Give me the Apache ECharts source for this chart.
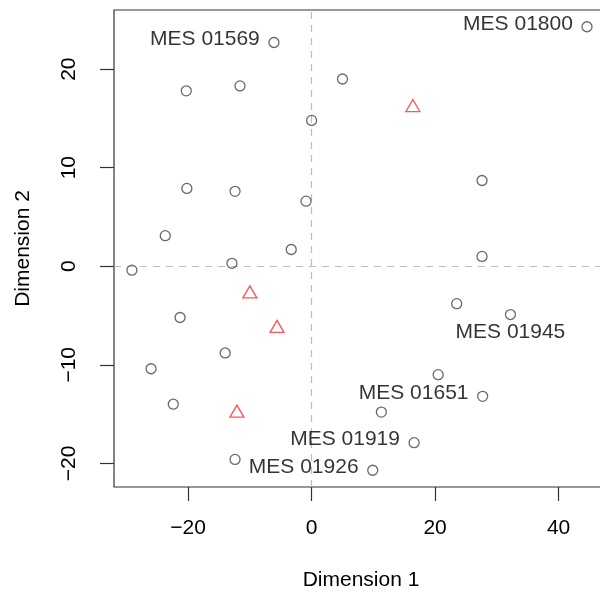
<!DOCTYPE html>
<html>
<head>
<meta charset="utf-8">
<script src="https://cdn.jsdelivr.net/npm/echarts@6/dist/echarts.min.js"></script>
<style>
  html, body { margin: 0; padding: 0; background: #fff; }
  #chart { width: 600px; height: 592px; }
</style>
</head>
<body>
<div id="chart"></div>
<script>
// Samples shown as open circles (Dimension 1, Dimension 2) with optional tag
const circleX = [-6.1, -20.3, -11.6, 5.0, 0.0, -20.2, -12.4, -0.9, 44.6, 27.6,
                 -23.7, -3.3, -12.9, -29.1, -21.3, -14.0, -26.0, 27.6, 23.5, 32.2,
                 20.5, -22.4, -12.4, 27.7, 11.3, 16.6, 9.9];
const circleY = [22.7, 17.8, 18.3, 19.0, 14.8, 7.9, 7.6, 6.6, 24.3, 8.7,
                 3.1, 1.7, 0.3, -0.4, -5.2, -8.8, -10.4, 1.0, -3.8, -4.9,
                 -11.0, -14.0, -19.6, -13.2, -14.8, -17.9, -20.7];
const circleTags = ['MES 01569', '', '', '', '', '', '', '', 'MES 01800', '',
                    '', '', '', '', '', '', '', '', '', 'MES 01945',
                    '', '', '', 'MES 01651', '', 'MES 01919', 'MES 01926'];

// Samples shown as red open triangles
const triX = [16.4, -10.0, -5.6, -12.1];
const triY = [16.3, -2.6, -6.1, -14.7];

// Axis tick positions
const dim1Ticks = [-20, 0, 20, 40];
const dim2Ticks = [-20, -10, 0, 10, 20];

const FONT = 'Liberation Sans, Arial, sans-serif';
const TEXT = '#000';
const fmt = v => (v < 0 ? '\u2212' + Math.abs(v) : String(v));

// tags sit left of their point, except the one placed underneath
const belowTags = new Set(['MES 01945']);

function tagLabel(tag) {
  if (!tag) return { show: false };
  if (belowTags.has(tag)) {
    return { show: true, formatter: tag, position: 'bottom', distance: 2 };
  }
  return { show: true, formatter: tag, position: 'left', distance: 8.5, offset: [0, -3] };
}

const circleData = circleX.map((x, i) => ({
  value: [x, circleY[i]],
  label: tagLabel(circleTags[i])
}));
const triData = triX.map((x, i) => [x, triY[i]]);

const chart = echarts.init(document.getElementById('chart'), null, { renderer: 'canvas' });
chart.setOption({
  animation: false,
  backgroundColor: '#fff',
  grid: {
    left: 114, top: 10, width: 494, height: 477,
    outerBoundsMode: 'none',
    containLabel: false,
    show: true, borderColor: '#333', borderWidth: 1.2,
    backgroundColor: 'transparent'
  },
  xAxis: {
    type: 'value', min: -32, max: 48,
    axisLine: { show: false, onZero: false },
    splitLine: { show: false },
    axisTick: { show: true, customValues: dim1Ticks, length: 14,
                lineStyle: { color: '#333', width: 1.2 } },
    axisLabel: { customValues: dim1Ticks, formatter: fmt, fontSize: 21,
                 fontFamily: FONT, color: TEXT, margin: 31 },
    name: 'Dimension 1', nameLocation: 'middle', nameGap: 83,
    nameTextStyle: { fontSize: 21, fontFamily: FONT, color: TEXT }
  },
  yAxis: {
    type: 'value', min: -22.4, max: 26,
    axisLine: { show: false, onZero: false },
    splitLine: { show: false },
    axisTick: { show: true, customValues: dim2Ticks, length: 14,
                lineStyle: { color: '#333', width: 1.2 } },
    axisLabel: { customValues: dim2Ticks, formatter: fmt, fontSize: 21,
                 fontFamily: FONT, color: TEXT, margin: 34, rotate: 90 },
    name: 'Dimension 2', nameLocation: 'middle', nameGap: 80,
    nameTextStyle: { fontSize: 21, fontFamily: FONT, color: TEXT }
  },
  series: [
    {
      type: 'scatter',
      data: circleData,
      symbol: 'circle',
      symbolSize: 10,
      itemStyle: { color: 'rgba(0,0,0,0)', borderColor: '#444', borderWidth: 1.3 },
      label: { fontSize: 21, fontFamily: FONT, color: TEXT },
      emphasis: { disabled: true },
      z: 3,
      markLine: {
        silent: true,
        symbol: 'none',
        label: { show: false },
        lineStyle: { color: '#bdbdbd', type: [7, 6], width: 1.2 },
        data: [{ xAxis: 0 }, { yAxis: 0 }],
        z: 1
      }
    },
    {
      type: 'scatter',
      data: triData,
      symbol: 'triangle',
      symbolSize: [14, 12],
      itemStyle: { color: 'rgba(0,0,0,0)', borderColor: '#ff2a2a', borderWidth: 1.3 },
      emphasis: { disabled: true },
      z: 3
    }
  ]
});
</script>
</body>
</html>
